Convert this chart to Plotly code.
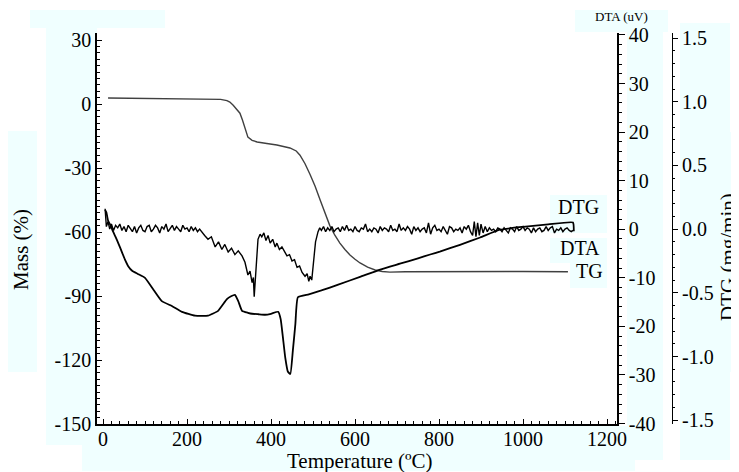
import plotly.graph_objects as go

# ---------------- data ----------------
tg_temp = [12, 60, 120, 180, 240, 280, 295, 302, 310, 318, 326, 332, 338, 345, 355, 367,
           390, 414, 445, 460, 469, 481, 493, 505, 517, 528, 540, 552, 564, 576, 588, 600,
           612, 630, 648, 665, 683, 720, 800, 900, 1000, 1107]
tg_mass = [2.8, 2.7, 2.7, 2.6, 2.5, 2.2, 1.6, 0.9, -0.6, -2.2, -4.3, -7.5, -10.8, -15.5, -17.0, -17.8,
           -18.5, -19.2, -20.6, -22.0, -24.0, -28.0, -33.0, -38.5, -45.0, -51.0, -57.0, -61.5, -65.2, -68.2, -70.8, -72.8,
           -74.5, -76.5, -77.8, -78.5, -78.8, -78.6, -78.5, -78.6, -78.5, -78.6]

dta_temp = [5, 8, 12, 18, 24, 29, 37, 45, 52, 60, 70, 83, 100, 119, 140, 164, 188, 219, 250, 274,
            295, 305, 314, 322, 331, 345, 355, 370, 386, 400, 417, 423, 428, 434, 440, 446, 452, 458,
            464, 490, 520, 560, 612, 660, 707, 750, 779, 802, 850, 898, 945, 1000, 1060, 1119, 1121]
dta_uv = [4.0, 3.5, 1.8, 0.8, -0.5, -1.4, -3.0, -4.7, -6.2, -7.6, -8.6, -9.2, -10.0, -12.3, -14.8, -15.8, -17.0, -17.8, -17.8, -16.8,
          -14.4, -13.8, -13.5, -14.8, -16.8, -17.2, -17.4, -17.5, -17.6, -17.4, -17.0, -18.5, -22.0, -26.5, -29.3, -29.8, -25.0, -19.5,
          -14.0, -13.4, -12.6, -11.4, -9.8, -8.3, -7.1, -6.0, -5.2, -4.6, -3.2, -1.7, -0.1, 0.5, 1.0, 1.4, -0.4]

dtg_temp = [5, 8, 12, 16, 20, 25, 30, 35, 40, 45, 50, 55, 60, 65, 70, 75, 80, 85, 90, 95,
            100, 105, 110, 115, 120, 125, 130, 135, 140, 145, 150, 155, 160, 165, 170, 175, 180, 185, 190, 195,
            200, 205, 210, 215, 220, 225, 230, 236, 242, 250, 258, 267, 275, 283, 290, 298, 306, 314, 322, 331,
            338, 345, 350, 355, 358, 360, 364, 369, 374, 378, 383, 388, 393, 398, 404, 410, 414, 420, 426, 433,
            438, 444, 450, 456, 462, 468, 474, 481, 486, 490, 493, 497, 500, 506, 512, 516, 520, 525, 530, 535,
            540, 545, 550, 555, 560, 565, 570, 575, 580, 585, 590, 595, 600, 605, 610, 615, 620, 625, 630, 635,
            640, 645, 650, 655, 660, 665, 670, 675, 680, 685, 690, 695, 700, 705, 710, 715, 720, 725, 730, 735,
            740, 745, 750, 755, 760, 765, 770, 775, 780, 785, 790, 795, 800, 805, 810, 815, 820, 825, 830, 835,
            840, 845, 850, 855, 860, 865, 870, 875, 880, 884, 888, 892, 896, 900, 905, 910, 915, 920, 925, 930,
            935, 940, 945, 950, 955, 960, 965, 970, 975, 980, 985, 990, 995, 1000, 1005, 1010, 1015, 1020, 1025, 1030,
            1035, 1040, 1045, 1050, 1055, 1060, 1065, 1070, 1075, 1080, 1085, 1090, 1095, 1100, 1105, 1110, 1115, 1119]
dtg_rate = [0.16, 0.02, 0.06, 0.0, 0.04, -0.01, 0.03, 0.01, 0.04, -0.01, 0.02, -0.02, 0.03, 0.0, -0.02, 0.02, -0.03, 0.01, 0.03, -0.01,
            -0.02, 0.02, 0.03, -0.02, 0.0, 0.03, 0.01, -0.03, 0.02, 0.0, 0.04, -0.02, 0.01, 0.03, -0.01, 0.02, 0.0, -0.02, 0.03, 0.0,
            0.01, -0.02, 0.02, -0.01, 0.01, -0.02, 0.0, -0.03, -0.05, -0.08, -0.06, -0.14, -0.10, -0.16, -0.12, -0.18, -0.15, -0.20, -0.17, -0.21,
            -0.26, -0.36, -0.33, -0.42, -0.38, -0.53, -0.30, -0.08, -0.04, -0.06, -0.03, -0.09, -0.05, -0.11, -0.08, -0.14, -0.11, -0.16, -0.14, -0.18,
            -0.21, -0.20, -0.25, -0.24, -0.30, -0.29, -0.34, -0.37, -0.35, -0.41, -0.37, -0.40, -0.28, -0.10, -0.02, 0.01, -0.01, 0.02, -0.02, 0.01,
            -0.01, 0.02, -0.02, 0.0, 0.01, -0.02, 0.02, -0.01, 0.03, -0.01, 0.0, -0.02, 0.02, -0.01, -0.02, 0.01, 0.0, 0.04, -0.02, 0.0,
            -0.02, 0.01, 0.0, -0.03, 0.02, -0.01, 0.01, 0.0, -0.02, 0.03, -0.01, 0.0, -0.02, 0.04, -0.01, 0.01, -0.01, 0.02, 0.0, -0.04,
            0.02, -0.01, 0.01, -0.02, 0.0, 0.01, -0.03, 0.05, -0.04, 0.01, 0.03, -0.01, 0.0, -0.02, 0.02, -0.01, -0.04, 0.02, 0.01, -0.02,
            0.0, -0.01, 0.01, -0.03, 0.02, 0.0, 0.03, -0.02, -0.05, 0.06, -0.06, 0.05, -0.05, 0.04, -0.03, 0.02, -0.02, 0.01, -0.01, 0.0,
            -0.02, 0.01, 0.0, -0.02, 0.01, -0.01, -0.03, 0.01, 0.0, -0.02, 0.02, -0.01, 0.0, 0.02, -0.01, 0.01, 0.0, -0.03, 0.01, -0.02,
            0.0, 0.01, -0.02, -0.01, 0.02, -0.01, 0.01, 0.02, -0.03, 0.0, -0.01, 0.01, -0.02, 0.0, 0.01, -0.01, -0.02, -0.01]

temp_ticks = [0, 200, 400, 600, 800, 1000, 1200]
mass_ticks = [-150, -120, -90, -60, -30, 0, 30]
dta_ticks = [-40, -30, -20, -10, 0, 10, 20, 30, 40]
dtg_ticks = [-1.5, -1.0, -0.5, 0.0, 0.5, 1.0, 1.5]

# ---------------- layout helpers ----------------
# the page body adds an 8 px offset, so the figure is drawn 8 px smaller and
# every reference pixel position is shifted by that offset
OFF = 8
W, H = 739 - OFF, 472 - OFF
PL, PR, PT, PB = 97 - OFF, 680 - OFF, 33 - OFF, 424 - OFF   # paper area (figure px)


def px(x):   # reference pixel x -> paper fraction
    return (x - OFF - PL) / (PR - PL)


def py(y):   # reference pixel y -> paper fraction
    return (PB - (y - OFF)) / (PB - PT)


FONT = "Liberation Serif"
BOX = "#F0FFFF"

fig = go.Figure()
fig.add_trace(go.Scatter(x=tg_temp, y=tg_mass, mode="lines", yaxis="y",
                         line=dict(color="#404040", width=1.4), showlegend=False))
fig.add_trace(go.Scatter(x=dta_temp, y=dta_uv, mode="lines", yaxis="y2",
                         line=dict(color="black", width=1.8, shape="spline", smoothing=0.4),
                         showlegend=False))
fig.add_trace(go.Scatter(x=dtg_temp, y=dtg_rate, mode="lines", yaxis="y3",
                         line=dict(color="black", width=1.4), showlegend=False))

boxes = [
    (30, 10, 165, 28), (46, 28, 97, 445), (8, 131, 37, 372),
    (47, 426, 82, 445), (82, 426, 635, 471),
    (575, 10, 668, 32), (627, 32, 663, 460), (600, 426, 663, 460),
    (680, 23, 730, 460), (722, 132, 739, 372),
    (550, 195, 607, 233), (550, 238, 607, 263), (570, 263, 607, 288),
]
shapes = [dict(type="rect", xref="paper", yref="paper",
               x0=px(a), x1=px(c), y0=py(d), y1=py(b),
               fillcolor=BOX, line=dict(width=0), layer="below")
          for a, b, c, d in boxes]

tick_font = dict(family=FONT, size=20, color="black")


def lbl(v, fmt):
    return [fmt.format(t) for t in v]


fig.update_layout(
    width=W, height=H,
    margin=dict(l=PL, r=W - PR, t=PT, b=H - PB, pad=0, autoexpand=False),
    paper_bgcolor="white", plot_bgcolor="rgba(0,0,0,0)",
    font=dict(family=FONT, color="black"),
    shapes=shapes,
    xaxis=dict(domain=[0, px(617)], range=[-14.3, 1223.8],
               tickmode="array", tickvals=temp_ticks, ticktext=lbl(temp_ticks, "{:d}"),
               ticks="inside", ticklen=5, tickcolor="black", tickwidth=1,
               ticklabelstandoff=-4,
               minor=dict(tickmode="linear", tick0=0, dtick=20, ticks="inside", ticklen=3, tickcolor="black"),
               showline=True, linecolor="black", linewidth=1.5, showgrid=False, zeroline=False,
               tickfont=tick_font, anchor="y", automargin=False),
    yaxis=dict(range=[-150, 33.3], tickmode="array", tickvals=mass_ticks,
               ticktext=lbl(mass_ticks, "{:d}"),
               ticks="inside", ticklen=5, tickcolor="black",
               minor=dict(tickmode="linear", tick0=0, dtick=3, ticks="inside", ticklen=3, tickcolor="black"),
               showline=True, linecolor="black", linewidth=1.5, showgrid=False, zeroline=False,
               tickfont=tick_font, anchor="x", automargin=False),
    yaxis2=dict(range=[-40.1, 40.41], overlaying="y", side="right", anchor="x",
                tickmode="array", tickvals=dta_ticks, ticktext=lbl(dta_ticks, "{:d}"),
                ticks="outside", ticklen=6, tickcolor="black",
                minor=dict(tickmode="linear", tick0=0, dtick=2, ticks="outside", ticklen=3, tickcolor="black"),
                showline=True, linecolor="black", linewidth=1.5, showgrid=False, zeroline=False,
                tickfont=tick_font, automargin=False),
    yaxis3=dict(range=[-1.53, 1.54], overlaying="y", side="right", anchor="free",
                position=px(672),
                tickmode="array", tickvals=dtg_ticks, ticktext=lbl(dtg_ticks, "{:.1f}"),
                ticks="outside", ticklen=5, tickcolor="black",
                minor=dict(tickmode="linear", tick0=0, dtick=0.1, ticks="outside", ticklen=2, tickcolor="black"),
                showline=True, linecolor="black", linewidth=1, showgrid=False, zeroline=False,
                tickfont=tick_font, automargin=False),
)

ann = [
    dict(text="Mass (%)", x=px(21), y=py(250), textangle=-90, size=21),
    dict(text="DTG (mg/min)", x=px(728), y=py(257), textangle=-90, size=21),
    dict(text="Temperature (ºC)", x=px(360), y=py(461), textangle=0, size=21),
    dict(text="DTA (uV)", x=px(621), y=py(17), textangle=0, size=13),
    dict(text="DTG", x=px(578), y=py(207), textangle=0, size=20),
    dict(text="DTA", x=px(580), y=py(248), textangle=0, size=20),
    dict(text="TG", x=px(589), y=py(271), textangle=0, size=20),
]
fig.update_layout(annotations=[
    dict(text=a["text"], x=a["x"], y=a["y"], xref="paper", yref="paper",
         xanchor="center", yanchor="middle", showarrow=False, textangle=a["textangle"],
         font=dict(family=FONT, size=a["size"], color="black"))
    for a in ann])

fig.write_html("out.html")
